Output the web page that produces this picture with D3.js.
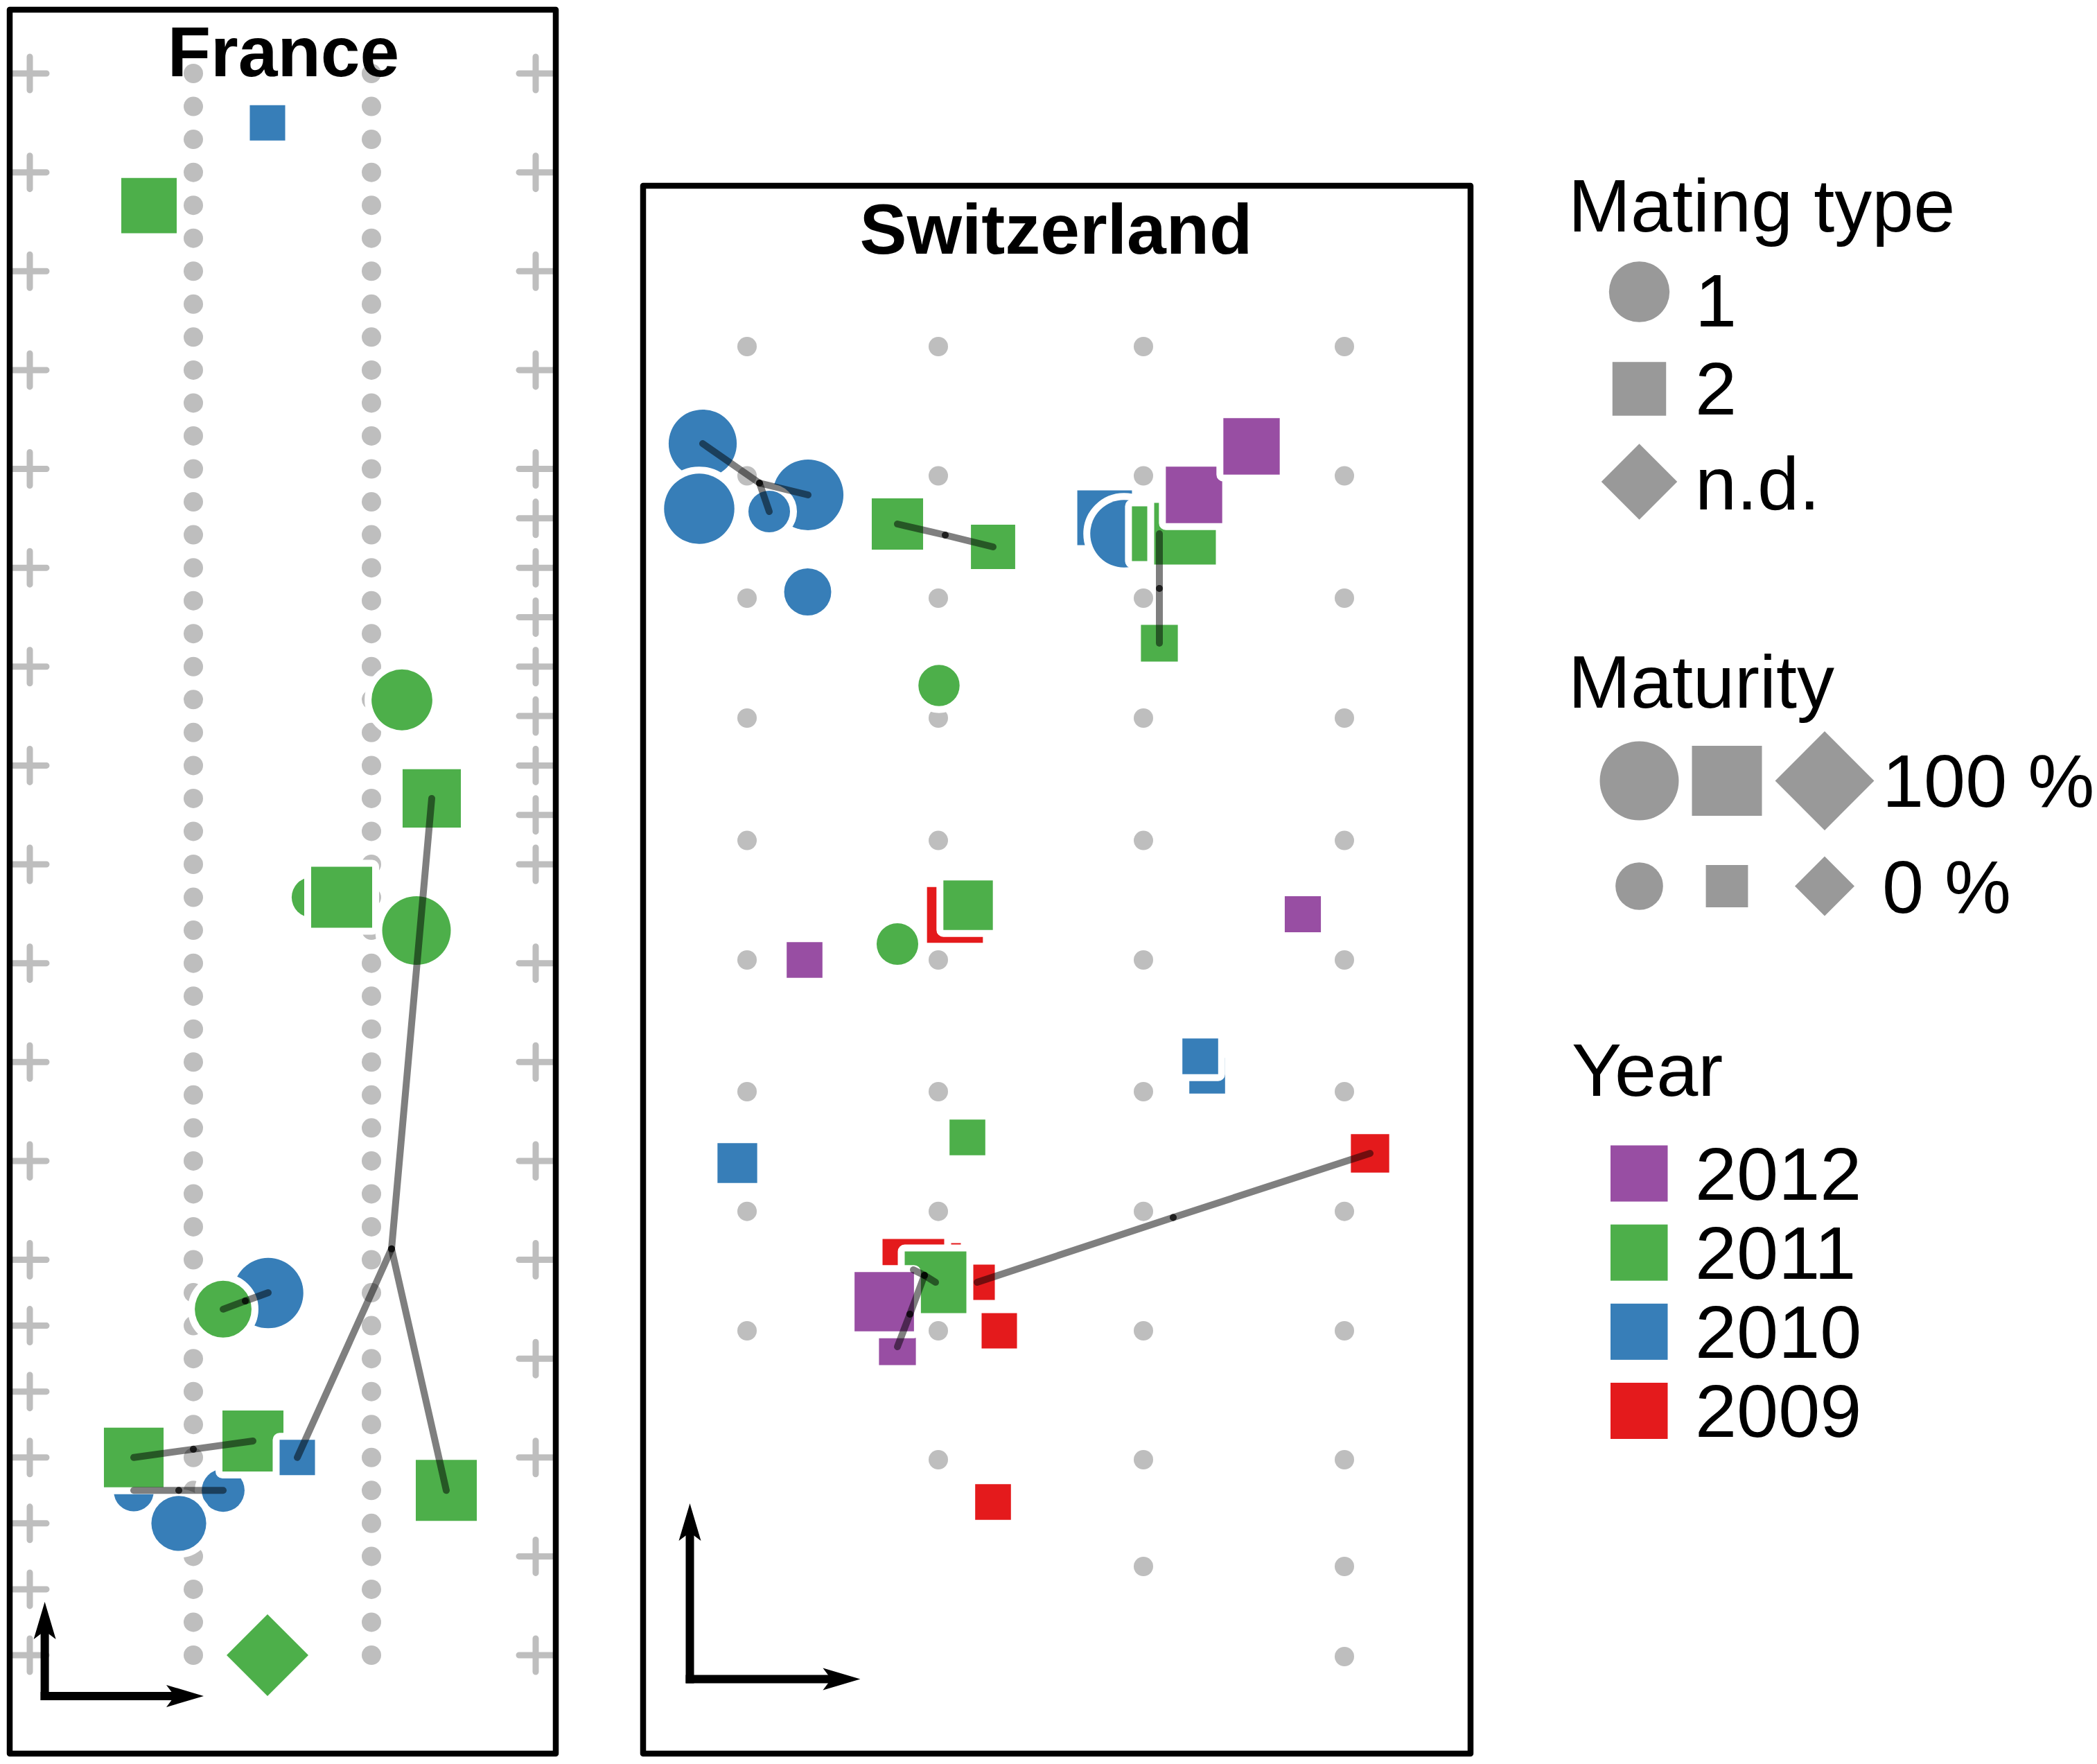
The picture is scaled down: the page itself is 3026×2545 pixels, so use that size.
<!DOCTYPE html>
<html>
<head>
<meta charset="utf-8">
<script src="https://cdn.jsdelivr.net/npm/d3@7"></script>
<style>
    html, body { margin: 0; padding: 0; background: #fff; }
    text { font-family: "Liberation Sans", Arial, sans-serif; fill: #000; }
</style>
</head>
<body>
<svg id="chart" width="3026" height="2545"></svg>
<script>
// field positions, x in metres from the first column, y in rows
var yearLabels = [2012, 2011, 2010, 2009];
var yearColors = ["#984EA3", "#4DAF4A", "#377EB8", "#E41A1C"];
var matingLabels = ["1", "2", "n.d."];
var maturityLabels = ["100 %", "0 %"];

var frDotCols = [2.36, 4.93];
var frCrossCols = [0, 7.30];
var frRowCount = 49;
var frCrossLeft = [0, 3, 6, 9, 12, 15, 18, 21, 24, 27, 30, 33, 36, 38, 40, 42, 44, 46, 48];
var frCrossRight = [0, 3, 6, 9, 12, 13.5, 15, 16.5, 18, 19.5, 21, 22.5, 24, 27, 30, 33, 36, 39, 42, 45, 48];

// [x, y, year, mating type, maturity %], in drawing order
var frMarks = [
    [1.50, 43.03, 2010, "1", 1],
    [2.79, 43.00, 2010, "1", 8],
    [2.15, 44.00, 2010, "1", 42],
    [3.44, 37.01, 2010, "1", 98],
    [3.43, 1.50, 2010, "2", 1],
    [1.72, 4.01, 2011, "2", 68],
    [5.37, 19.01, 2011, "1", 62],
    [5.80, 22.00, 2011, "2", 80],
    [4.07, 25.00, 2011, "1", 2],
    [4.50, 25.00, 2011, "2", 92],
    [5.58, 26.01, 2011, "1", 91],
    [2.79, 37.50, 2011, "1", 48],
    [1.50, 42.00, 2011, "2", 86],
    [3.22, 41.50, 2011, "2", 92],
    [6.01, 43.00, 2011, "2", 92],
    [3.86, 42.00, 2010, "2", 1],
    [3.43, 48.00, 2011, "n.d.", 78]
];
// [node x, node y, [end x, end y], ...]
var frLinks = [
    [5.22, 35.67, [5.80, 22.00], [3.86, 42.00], [6.01, 43.00]],
    [2.36, 41.75, [1.50, 42.00], [3.22, 41.50]],
    [2.15, 43.00, [1.50, 43.00], [2.79, 43.00]],
    [3.11, 37.25, [2.79, 37.50], [3.44, 37.00]]
];

var chCols = [0, 2.76, 5.72, 8.62];
var chRows = [0, 1.865, 3.63, 5.36, 7.126, 8.85, 10.75, 12.477, 14.2, 16.06, 17.6, 18.9];
var chRowFirstCol = [0, 0, 0, 0, 0, 0, 0, 0, 0, 1, 2, 3];

var chMarks = [
    [2.83, 13.19, 2009, "2", 1],
    [2.40, 13.32, 2009, "2", 95],
    [3.32, 13.50, 2009, "2", 1],
    [3.64, 14.20, 2009, "2", 1],
    [3.55, 16.67, 2009, "2", 2],
    [3.00, 8.20, 2009, "2", 70],
    [8.99, 11.64, 2009, "2", 9],
    [-0.64, 1.40, 2010, "1", 89],
    [-0.69, 2.34, 2010, "1", 98],
    [0.88, 2.14, 2010, "1", 100],
    [0.32, 2.38, 2010, "1", 5],
    [0.875, 3.54, 2010, "1", 19],
    [5.16, 2.47, 2010, "2", 65],
    [5.44, 2.70, 2010, "1", 87],
    [6.64, 10.52, 2010, "2", 2],
    [6.54, 10.24, 2010, "2", 2],
    [-0.14, 11.78, 2010, "2", 13],
    [2.17, 2.56, 2011, "2", 52],
    [3.55, 2.89, 2011, "2", 27],
    [5.95, 2.70, 2011, "2", 66],
    [6.32, 2.70, 2011, "2", 95],
    [5.95, 4.28, 2011, "2", 5],
    [2.77, 4.89, 2011, "1", 4],
    [3.19, 8.06, 2011, "2", 45],
    [2.17, 8.62, 2011, "1", 5],
    [3.18, 11.41, 2011, "2", 2],
    [2.72, 13.50, 2011, "2", 95],
    [6.45, 2.14, 2012, "2", 72],
    [7.28, 1.44, 2012, "2", 72],
    [0.83, 8.85, 2012, "2", 2],
    [8.02, 8.19, 2012, "2", 3],
    [2.17, 14.43, 2012, "2", 5],
    [1.98, 13.78, 2012, "2", 85]
];
var chLinks = [
    [0.18, 1.97, [-0.64, 1.40], [0.88, 2.14], [0.32, 2.38]],
    [2.86, 2.72, [2.17, 2.56], [3.55, 2.89]],
    [5.95, 3.49, [5.95, 2.70], [5.95, 4.28]],
    [2.56, 13.40, [2.40, 13.32], [2.72, 13.50]],
    [2.35, 13.96, [2.56, 13.40], [2.17, 14.43]],
    [6.15, 12.565, [3.32, 13.50], [8.99, 11.64]]
];

var svg = d3.select("#chart");
svg.append("rect").attr("width", 3026).attr("height", 2545).attr("fill", "#fff");

var yearColor = d3.scaleOrdinal().domain(yearLabels).range(yearColors);
var areaPlot = d3.scaleLinear().domain([0, 100]).range([2550, 8200]);
var areaLegend = d3.scaleLinear().domain([0, 100]).range([3700, 10200]);

function markPath(type, area) {
    return d3.symbol().type(type === "1" ? d3.symbolCircle : d3.symbolSquare).size(area)();
}
function markTransform(type, x, y) {
    return "translate(" + x + "," + y + ")" + (type === "n.d." ? " rotate(45)" : "");
}

function drawPanel(g, marks, links, x, y) {
    // white halo around each mark cuts whatever lies below it
    g.selectAll(".mark").data(marks).enter().append("path")
        .attr("class", "mark")
        .attr("d", function (d) { return markPath(d[3], areaPlot(d[4])); })
        .attr("transform", function (d) { return markTransform(d[3], x(d[0]), y(d[1])); })
        .attr("fill", function (d) { return yearColor(d[2]); })
        .attr("stroke", "#fff")
        .attr("stroke-width", 20)
        .attr("stroke-linejoin", "round")
        .style("paint-order", "stroke");

    links.forEach(function (l) {
        l.slice(2).forEach(function (end) {
            g.append("line")
                .attr("x1", x(l[0])).attr("y1", y(l[1]))
                .attr("x2", x(end[0])).attr("y2", y(end[1]))
                .attr("stroke", "#000")
                .attr("stroke-opacity", 0.5)
                .attr("stroke-width", 10)
                .attr("stroke-linecap", "round");
        });
        g.append("circle")
            .attr("cx", x(l[0])).attr("cy", y(l[1])).attr("r", 5)
            .attr("fill", "#000")
            .attr("fill-opacity", 0.5);
    });
}

function drawArrows(g, ox, oy, tipX, tipY) {
    var len = 54, half = 16, notch = 42;
    g.append("line").attr("x1", ox).attr("y1", oy).attr("x2", ox).attr("y2", tipY + notch)
        .attr("stroke", "#000").attr("stroke-width", 12).attr("stroke-linecap", "square");
    g.append("line").attr("x1", ox).attr("y1", oy).attr("x2", tipX - notch).attr("y2", oy)
        .attr("stroke", "#000").attr("stroke-width", 12).attr("stroke-linecap", "square");
    g.append("path")
        .attr("d", "M" + ox + "," + tipY + "L" + (ox + half) + "," + (tipY + len) +
            "L" + ox + "," + (tipY + notch) + "L" + (ox - half) + "," + (tipY + len) + "Z")
        .attr("fill", "#000");
    g.append("path")
        .attr("d", "M" + tipX + "," + oy + "L" + (tipX - len) + "," + (oy + half) +
            "L" + (tipX - notch) + "," + oy + "L" + (tipX - len) + "," + (oy - half) + "Z")
        .attr("fill", "#000");
}

// France
var frX = d3.scaleLinear().domain([0, 7.30]).range([43, 773]);
var frY = d3.scaleLinear().domain([0, 48]).range([106, 2388]);
var fr = svg.append("g").attr("class", "france");

frDotCols.forEach(function (c) {
    fr.append("g").selectAll("circle").data(d3.range(frRowCount)).enter().append("circle")
        .attr("cx", frX(c))
        .attr("cy", function (r) { return frY(r); })
        .attr("r", 14)
        .attr("fill", "#bebebe");
});
[frCrossLeft, frCrossRight].forEach(function (rows, i) {
    fr.append("g").selectAll("path").data(rows).enter().append("path")
        .attr("d", "M-24,0H24M0,-24V24")
        .attr("transform", function (r) { return "translate(" + frX(frCrossCols[i]) + "," + frY(r) + ")"; })
        .attr("stroke", "#bebebe")
        .attr("stroke-width", 9)
        .attr("stroke-linecap", "round")
        .attr("fill", "none");
});
drawPanel(fr, frMarks, frLinks, frX, frY);
drawArrows(fr, frX(0.216), frY(49.24), frX(2.51), frY(46.38));
fr.append("rect")
    .attr("x", 14).attr("y", 14).attr("width", 788).attr("height", 2516)
    .attr("fill", "none").attr("stroke", "#000").attr("stroke-width", 8.5).attr("stroke-linejoin", "round");
fr.append("text")
    .attr("x", 409).attr("y", 110)
    .attr("text-anchor", "middle")
    .attr("font-size", 102)
    .attr("font-weight", "bold")
    .text("France");

// Switzerland
var chX = d3.scaleLinear().domain([0, 8.62]).range([1078, 1940]);
var chY = d3.scaleLinear().domain([0, 18.9]).range([500, 2390]);
var ch = svg.append("g").attr("class", "switzerland");

chRows.forEach(function (row, i) {
    ch.append("g").selectAll("circle").data(chCols.slice(chRowFirstCol[i])).enter().append("circle")
        .attr("cx", function (c) { return chX(c); })
        .attr("cy", chY(row))
        .attr("r", 14)
        .attr("fill", "#bebebe");
});
drawPanel(ch, chMarks, chLinks, chX, chY);
drawArrows(ch, chX(-0.825), chY(19.226), chX(1.634), chY(16.69));
ch.append("rect")
    .attr("x", 928).attr("y", 268).attr("width", 1194).attr("height", 2262)
    .attr("fill", "none").attr("stroke", "#000").attr("stroke-width", 8.5).attr("stroke-linejoin", "round");
ch.append("text")
    .attr("x", 1524).attr("y", 366)
    .attr("text-anchor", "middle")
    .attr("font-size", 102)
    .attr("font-weight", "bold")
    .text("Switzerland");

// Legends
var legendGrey = "#999999";
var legendFont = 108;
var legend = svg.append("g").attr("class", "legend");

function legendTitle(label, x, y) {
    legend.append("text").attr("x", x).attr("y", y).attr("font-size", legendFont).text(label);
}

legendTitle("Mating type", 2263, 334);
var typeRowY = [421, 561, 695];
var typeBaseline = [471, 598, 735];
var typeArea = 6000;
matingLabels.forEach(function (t, i) {
    legend.append("path")
        .attr("d", markPath(t, typeArea))
        .attr("transform", markTransform(t, 2365.5, typeRowY[i]))
        .attr("fill", legendGrey);
    legend.append("text")
        .attr("x", 2446).attr("y", typeBaseline[i])
        .attr("font-size", legendFont)
        .text(t);
});

legendTitle("Maturity", 2263, 1021);
var matValues = [100, 0];
var matRowY = [1126.5, 1278.5];
var matBaseline = [1164, 1317];
var matShapeX = d3.scaleOrdinal().domain(matingLabels).range([2365.5, 2492, 2633]);
matValues.forEach(function (m, i) {
    matingLabels.forEach(function (t) {
        legend.append("path")
            .attr("d", markPath(t, areaLegend(m)))
            .attr("transform", markTransform(t, matShapeX(t), matRowY[i]))
            .attr("fill", legendGrey);
    });
    legend.append("text")
        .attr("x", 2716).attr("y", matBaseline[i])
        .attr("font-size", legendFont)
        .text(maturityLabels[i]);
});

legendTitle("Year", 2268, 1581);
var yearTop = d3.scaleBand().domain(yearLabels).range([1652.5, 2076]).paddingInner(0.29).paddingOuter(0);
yearLabels.forEach(function (yr) {
    legend.append("rect")
        .attr("x", 2324).attr("y", yearTop(yr))
        .attr("width", 82.5).attr("height", yearTop.bandwidth())
        .attr("fill", yearColor(yr));
    legend.append("text")
        .attr("x", 2446).attr("y", yearTop(yr) + yearTop.bandwidth() - 3)
        .attr("font-size", legendFont)
        .text(yr);
});
</script>
</body>
</html>
